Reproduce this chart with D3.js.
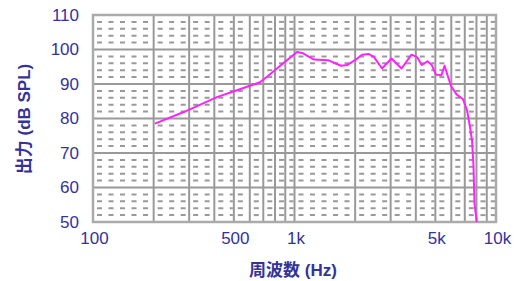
<!DOCTYPE html>
<html>
<head>
<meta charset="utf-8">
<script src="https://cdn.jsdelivr.net/npm/d3@7"></script>
<style>
  body { margin: 0; background: #fff; }
  svg { display: block; }
</style>
</head>
<body>
<svg id="chart"></svg>
<script>
// frequency response (Hz, dB SPL)
const freqs = [203, 280, 412, 518, 674, 730, 867, 1029, 1102, 1250, 1467, 1701, 1822, 1996,
  2163, 2343, 2480, 2718, 3029, 3396, 3807, 4055, 4280, 4571, 4786, 5039, 5364, 5552,
  5980, 6368, 6856, 7180, 7430, 7600, 7730, 7820, 8020];
const spl = [78.5, 81.8, 86.2, 88.2, 90.5, 92.1, 95.7, 99.3, 98.9, 97.1, 96.9, 95.3, 95.5, 96.9,
  98.5, 98.7, 97.8, 94.5, 97.4, 94.5, 98.5, 97.8, 95.5, 96.6, 95.6, 92.7, 92.6, 95.3,
  89.4, 87.0, 85.6, 82.4, 77.5, 73.7, 66.4, 55.4, 50];

const yTicks = [50, 60, 70, 80, 90, 100, 110];
const xTickValues = [100, 500, 1000, 5000, 10000];
const xTickLabels = ['100', '500', '1k', '5k', '10k'];

const W = 529, H = 281;
const plotL = 93, plotR = 496, plotT = 15, plotB = 222;
const textColor = '#333399';
const gridColor = '#999';

const svg = d3.select('#chart').attr('width', W).attr('height', H);

const x = d3.scaleLog().domain([100, 10000]).range([plotL, plotR]);
const y = d3.scaleLinear().domain([50, 110]).range([plotB, plotT]);

// vertical grid: every 100 Hz up to 1k, every 1k up to 10k
const vLines = [];
for (let d = 100; d < 10000; d *= 10) {
  for (let m = 1; m < 10; m++) vLines.push(d * m);
}
vLines.push(10000);

const grid = svg.append('g');

// dashed minor lines, drawn cell by cell so the dashes start at each vertical line
const minorDb = d3.range(52, 110, 2).filter(v => v % 10 !== 0);
minorDb.forEach(v => {
  for (let i = 0; i < vLines.length - 1; i++) {
    const x0 = x(vLines[i]), x1 = x(vLines[i + 1]);
    grid.append('line')
      .attr('x1', x0 + 4).attr('x2', x1 - 1)
      .attr('y1', y(v)).attr('y2', y(v))
      .attr('stroke', gridColor)
      .attr('stroke-width', 2)
      .attr('stroke-dasharray', '5,6.5');
  }
});

grid.selectAll('.vline')
  .data(vLines)
  .join('line')
    .attr('x1', d => x(d)).attr('x2', d => x(d))
    .attr('y1', plotT).attr('y2', plotB)
    .attr('stroke', gridColor)
    .attr('stroke-width', 2);

grid.selectAll('.hline')
  .data(yTicks)
  .join('line')
    .attr('x1', plotL).attr('x2', plotR)
    .attr('y1', d => y(d)).attr('y2', d => y(d))
    .attr('stroke', gridColor)
    .attr('stroke-width', 2);

grid.append('rect')
  .attr('x', plotL).attr('y', plotT)
  .attr('width', plotR - plotL).attr('height', plotB - plotT)
  .attr('fill', 'none')
  .attr('stroke', '#aaa')
  .attr('stroke-width', 2.5);

// response curve
const line = d3.line()
  .x((d, i) => x(freqs[i]))
  .y(d => y(d));

svg.append('path')
  .datum(spl)
  .attr('d', line)
  .attr('fill', 'none')
  .attr('stroke', '#ff22ff')
  .attr('stroke-width', 2)
  .attr('stroke-linejoin', 'round');

// axes (labels only)
const yAxis = d3.axisLeft(y).tickValues(yTicks).tickSize(0).tickPadding(14);
const gy = svg.append('g').attr('transform', `translate(${plotL},0)`).call(yAxis);

const xAxis = d3.axisBottom(x).tickValues(xTickValues)
  .tickFormat((d, i) => xTickLabels[i]).tickSize(0).tickPadding(10);
const gx = svg.append('g').attr('transform', `translate(0,${plotB})`).call(xAxis);

[gx, gy].forEach(g => {
  g.select('.domain').remove();
  g.selectAll('text')
    .attr('fill', textColor)
    .style('font-family', '"Liberation Sans", Arial, sans-serif')
    .style('font-size', '17px');
});
gx.selectAll('text').attr('dx', '1');

// axis titles
svg.append('text')
  .attr('x', 293).attr('y', 276)
  .attr('text-anchor', 'middle')
  .attr('fill', textColor)
  .style('font-family', '"Liberation Sans", "Noto Sans CJK JP", sans-serif')
  .style('font-weight', 'bold')
  .style('font-size', '17px')
  .text('周波数 (Hz)');

svg.append('text')
  .attr('transform', 'translate(30,119) rotate(-90)')
  .attr('text-anchor', 'middle')
  .attr('fill', textColor)
  .style('font-family', '"Liberation Sans", "Noto Sans CJK JP", sans-serif')
  .style('font-weight', 'bold')
  .style('font-size', '17px')
  .text('出力 (dB SPL)');
</script>
</body>
</html>
